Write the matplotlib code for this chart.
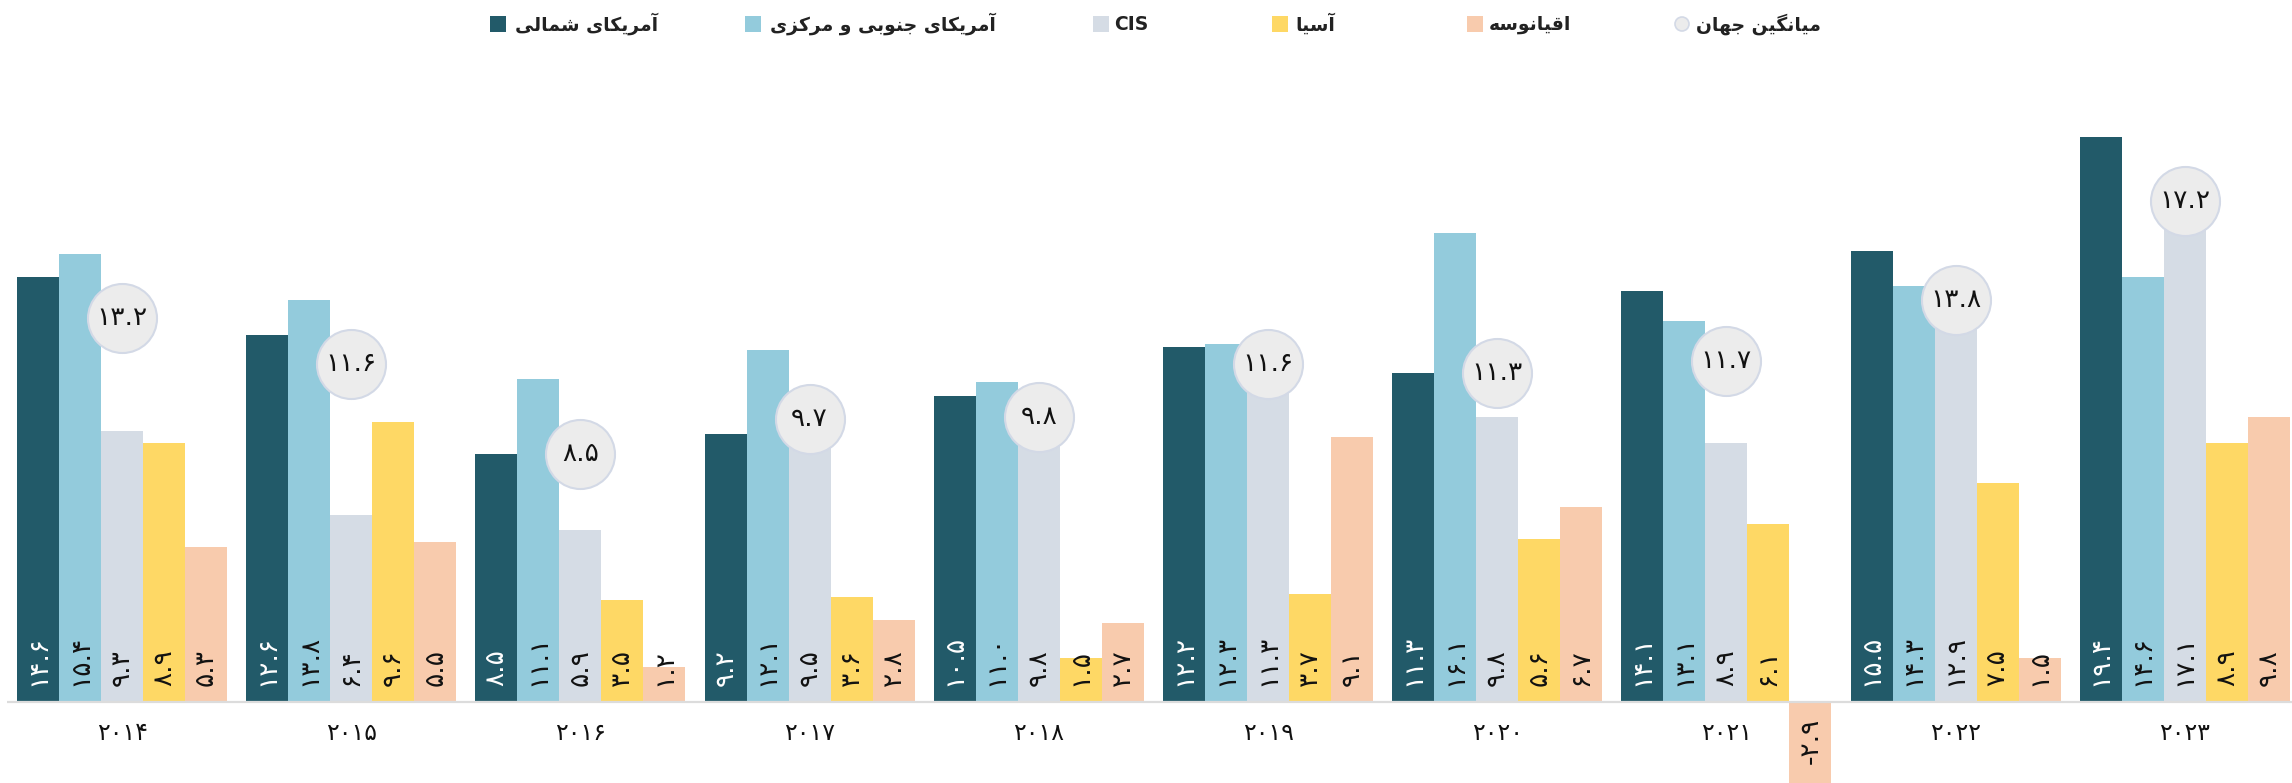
import matplotlib
matplotlib.use("Agg")
import matplotlib.pyplot as plt
from matplotlib.patches import Rectangle, Ellipse
import numpy as np

# ---------------- data ----------------
years = ['2014', '2015', '2016', '2017', '2018', '2019', '2020', '2021', '2022', '2023']
series_names = ['آمریکای شمالی', 'آمریکای جنوبی و مرکزی', 'CIS', 'آسیا', 'اقیانوسه']
avg_name = 'میانگین جهان'
north_america = [14.6, 12.6, 8.5, 9.2, 10.5, 12.2, 11.3, 14.1, 15.5, 19.4]
south_central = [15.4, 13.8, 11.1, 12.1, 11.0, 12.3, 16.1, 13.1, 14.3, 14.6]
cis = [9.3, 6.4, 5.9, 9.5, 9.8, 11.3, 9.8, 8.9, 12.9, 17.1]
asia = [8.9, 9.6, 3.5, 3.6, 1.5, 3.7, 5.6, 6.1, 7.5, 8.9]
oceania = [5.3, 5.5, 1.2, 2.8, 2.7, 9.1, 6.7, -2.9, 1.5, 9.8]
world_avg = [13.2, 11.6, 8.5, 9.7, 9.8, 11.6, 11.3, 11.7, 13.8, 17.2]

colors = ['#225a69', '#93cbdc', '#d5dce5', '#fed865', '#f8cbad']
label_colors = ['#ffffff', '#111111', '#111111', '#111111', '#111111']

# ---------------- minimal Persian shaping (matplotlib has no complex text layout) ----------------
FORMS = {
    'آ': ('\uFE81', '\uFE82'), 'ا': ('\uFE8D', '\uFE8E'),
    'ب': ('\uFE8F', '\uFE90', '\uFE91', '\uFE92'), 'ج': ('\uFE9D', '\uFE9E', '\uFE9F', '\uFEA0'),
    'ر': ('\uFEAD', '\uFEAE'), 'ز': ('\uFEAF', '\uFEB0'),
    'س': ('\uFEB1', '\uFEB2', '\uFEB3', '\uFEB4'), 'ش': ('\uFEB5', '\uFEB6', '\uFEB7', '\uFEB8'),
    'ق': ('\uFED5', '\uFED6', '\uFED7', '\uFED8'), 'ک': ('\uFB8E', '\uFB8F', '\uFB90', '\uFB91'),
    'گ': ('\uFB92', '\uFB93', '\uFB94', '\uFB95'), 'ل': ('\uFEDD', '\uFEDE', '\uFEDF', '\uFEE0'),
    'م': ('\uFEE1', '\uFEE2', '\uFEE3', '\uFEE4'), 'ن': ('\uFEE5', '\uFEE6', '\uFEE7', '\uFEE8'),
    'ه': ('\uFEE9', '\uFEEA', '\uFEEB', '\uFEEC'), 'و': ('\uFEED', '\uFEEE'),
    'ی': ('\uFBFC', '\uFBFD', '\uFBFE', '\uFBFF'),
}


def shape(text):
    if not any(c in FORMS for c in text):
        return text
    out = []
    for i, c in enumerate(text):
        f = FORMS.get(c)
        if f is None:
            out.append(c)
            continue
        prev = text[i - 1] if i > 0 else None
        nxt = text[i + 1] if i + 1 < len(text) else None
        jp = prev in FORMS and len(FORMS[prev]) == 4
        jn = len(f) == 4 and nxt in FORMS
        if jp and jn:
            out.append(f[3])
        elif jp:
            out.append(f[1])
        elif jn:
            out.append(f[2])
        else:
            out.append(f[0])
    return ''.join(reversed(out))


FA_DIGITS = str.maketrans('0123456789', '۰۱۲۳۴۵۶۷۸۹')


def fa(s):
    return s.translate(FA_DIGITS)


plt.rcParams['font.family'] = ['DejaVu Sans']

W, H = 2292, 783
fig = plt.figure(figsize=(W / 100, H / 100), dpi=100)
ax = fig.add_axes([0, 0, 1, 1])

px_unit = 29.08
base_px = 81.5
cat_w = 229.2
c0 = 122.0
ax.set_xlim(-c0 / cat_w, (W - c0) / cat_w)
ax.set_ylim(-base_px / px_unit, (H - base_px) / px_unit)
ax.axis('off')

x = np.arange(len(years))
bw = 42.0 / cat_w
all_series = [north_america, south_central, cis, asia, oceania]

for j, vals in enumerate(all_series):
    xs = x + (j - 2) * bw
    ax.bar(xs, vals, width=bw, color=colors[j], zorder=2, linewidth=0)
    for xi, v in zip(xs, vals):
        if v >= 0:
            ax.annotate(fa(f'{v:.1f}'), (xi, 0), xytext=(0, 11.5), textcoords='offset points',
                        rotation=90, ha='center', va='bottom', fontsize=19,
                        color=label_colors[j], zorder=5)
        else:
            ax.annotate(fa(f'{v:.1f}'), (xi, 0), xytext=(0, -11.5), textcoords='offset points',
                        rotation=90, ha='center', va='top', fontsize=19,
                        color=label_colors[j], zorder=5)

# baseline
ax.plot([-0.5, 9.5], [0, 0], color='#dcdcdc', lw=1.6, zorder=3, solid_capstyle='butt')

# year labels
for xi, y in zip(x, years):
    ax.annotate(fa(y), (xi, 0), xytext=(0, -22.7), textcoords='offset points',
                ha='center', va='center', fontsize=17, color='#111111')

# world average circles
ax.scatter(x, world_avg, s=2470, facecolor='#ececec', edgecolor='#d3d9e6', linewidth=1.5, zorder=6)
for xi, v in zip(x, world_avg):
    ax.text(xi, v, fa(f'{v:.1f}'), ha='center', va='center', fontsize=19, color='#111111', zorder=7)

# legend (manual, pixel positions from top-left)
def fx(px):
    return px / W


def fy(py):
    return 1 - py / H


leg_y = 24
sq = 16
leg_items = [(498, 515), (753, 770), (1101, 1114), (1280, 1295), (1475, 1489)]
for (cx, tx), name, col in zip(leg_items, series_names, colors):
    fig.add_artist(Rectangle((fx(cx - sq / 2), fy(leg_y + sq / 2)), sq / W, sq / H,
                             transform=fig.transFigure, facecolor=col, edgecolor='none'))
    fig.text(fx(tx), fy(leg_y), shape(name), ha='left', va='center', fontsize=13.5,
             fontweight='bold', color='#222222')

cx, tx = 1682, 1696
fig.add_artist(Ellipse((fx(cx), fy(leg_y)), 14 / W, 14 / H, transform=fig.transFigure,
                       facecolor='#ececec', edgecolor='#d3d9e6', linewidth=1.2))
fig.text(fx(tx), fy(leg_y), shape(avg_name), ha='left', va='center', fontsize=13.5,
         fontweight='bold', color='#222222')

fig.savefig('out.png', dpi=100)
